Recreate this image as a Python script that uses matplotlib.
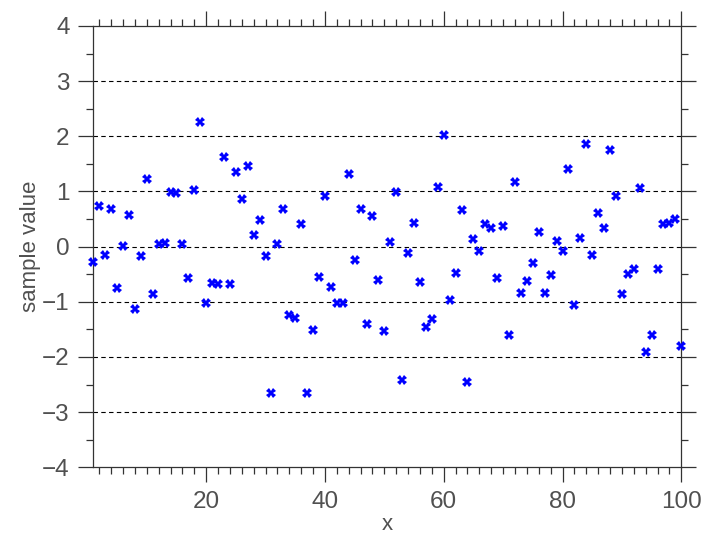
import numpy as np
import matplotlib
matplotlib.use("Agg")
import matplotlib.pyplot as plt
from matplotlib.ticker import MultipleLocator

x_values = list(range(1, 101))
sample_values = [
    -0.28, 0.73, -0.15, 0.69, -0.755, 0.005, 0.57, -1.13, -0.175, 1.23,
    -0.85, 0.05, 0.07, 0.985, 0.97, 0.05, -0.56, 1.02, 2.26, -1.015,
    -0.665, -0.68, 1.63, -0.67, 1.35, 0.87, 1.46, 0.205, 0.49, -0.175,
    -2.66, 0.055, 0.68, -1.24, -1.30, 0.405, -2.65, -1.52, -0.555, 0.925,
    -0.737, -1.027, -1.027, 1.317, -0.24, 0.69, -1.41, 0.56, -0.60, -1.53,
    0.08, 0.985, -2.41, -0.115, 0.435, -0.64, -1.46, -1.32, 1.09, 2.02,
    -0.96, -0.48, 0.66, -2.45, 0.14, -0.08, 0.405, 0.33, -0.575, 0.37,
    -1.595, 1.166, -0.834, -0.616, -0.30, 0.27, -0.834, -0.52, 0.097, -0.07,
    1.40, -1.06, 0.16, 1.855, -0.157, 0.61, 0.34, 1.76, 0.92, -0.85,
    -0.495, -0.405, 1.063, -1.91, -1.595, -0.405, 0.417, 0.423, 0.50, -1.795,
]

text_color = "#505050"
axis_color = "#333333"
plt.rcParams["font.family"] = ["Liberation Sans", "DejaVu Sans"]

fig = plt.figure(figsize=(7.14, 5.38), dpi=100)
ax = fig.add_axes([0.1307, 0.1314, 0.8235, 0.8203])

for yv in range(-3, 4):
    ax.axhline(yv, color="black", lw=0.8, ls=(0, (4, 3)), zorder=1)

ax.plot(x_values, sample_values, ls="none", marker="X", ms=6.5, mew=0,
        color="#0000ff", zorder=3, clip_on=False)

ax.set_xlim(1, 100)
ax.set_ylim(-4, 4)
ax.xaxis.set_major_locator(MultipleLocator(20))
ax.xaxis.set_minor_locator(MultipleLocator(2))
ax.yaxis.set_major_locator(MultipleLocator(1))
ax.yaxis.set_minor_locator(MultipleLocator(0.5))

ax.tick_params(which="both", direction="out", color=axis_color,
               top=True, right=True, labelsize=17.5, labelcolor=text_color,
               width=0.9)
ax.tick_params(which="major", length=11, pad=6)
ax.tick_params(which="minor", length=5)

for sp in ax.spines.values():
    sp.set_color(axis_color)
    sp.set_linewidth(0.9)

ax.set_xlabel("x", fontsize=16, color=text_color, labelpad=1)
ax.set_ylabel("sample value", fontsize=16, color=text_color, labelpad=1)

fig.savefig("out.png", dpi=100)
